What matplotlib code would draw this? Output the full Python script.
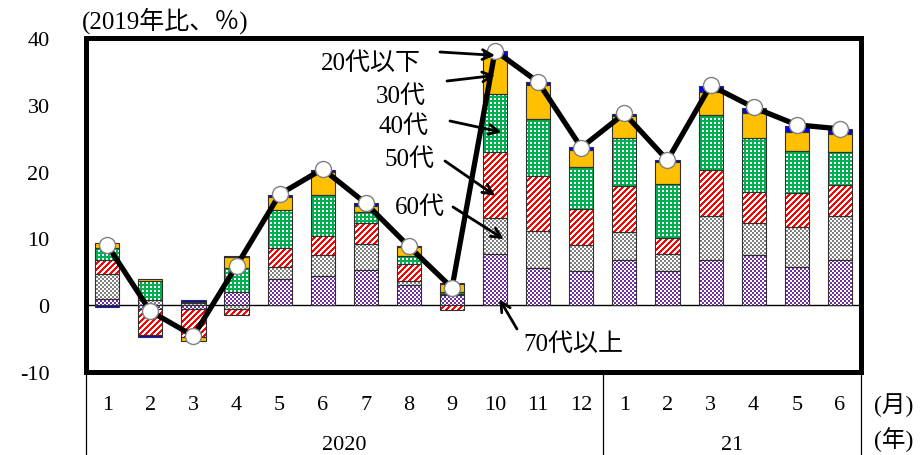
import numpy as np
import matplotlib
matplotlib.use("Agg")
import matplotlib.pyplot as plt
from matplotlib.path import Path
from matplotlib.colors import to_rgba

plt.rcParams['font.family'] = ['Liberation Serif', 'Noto Sans CJK JP', 'DejaVu Sans']
plt.rcParams['axes.unicode_minus'] = False

months = ['1', '2', '3', '4', '5', '6', '7', '8', '9', '10', '11', '12',
          '1', '2', '3', '4', '5', '6']
years = ['2020', '21']
year_counts = [12, 6]

series_names = ['70代以上', '60代', '50代', '40代', '30代', '20代以下']
age70 = [1.0, -0.6, -0.5, 2.0, 3.9, 4.3, 5.2, 3.0, 1.55, 7.65, 5.5, 5.15, 6.7, 5.05, 6.75, 7.5, 5.65, 6.7]
age60 = [3.6, 0.75, 0.4, -0.5, 1.75, 3.2, 3.9, 0.55, 0.15, 5.4, 5.55, 3.9, 4.3, 2.6, 6.55, 4.75, 6.1, 6.6]
age50 = [2.1, -3.9, -4.3, -0.9, 2.9, 2.9, 3.2, 2.55, -0.7, 9.85, 8.35, 5.35, 6.8, 2.4, 6.95, 4.65, 5.0, 4.7]
age40 = [1.9, 2.9, 0.15, 3.6, 5.7, 6.1, 1.6, 1.2, 0.3, 8.65, 8.4, 6.35, 7.2, 8.1, 8.15, 8.1, 6.35, 4.9]
age30 = [0.7, 0.2, -0.6, 1.6, 1.9, 3.5, 0.9, 1.35, 1.1, 5.75, 5.1, 2.55, 3.3, 3.25, 3.5, 3.75, 2.9, 2.75]
age20 = [-0.3, -0.3, 0.2, 0.15, 0.4, 0.3, 0.45, 0.15, 0.2, 0.7, 0.5, 0.35, 0.35, 0.35, 0.9, 0.75, 0.9, 0.75]
total = [9.0, -0.9, -4.6, 5.9, 16.6, 20.4, 15.25, 8.8, 2.6, 38.1, 33.4, 23.6, 28.7, 21.7, 32.9, 29.6, 27.0, 26.4]

W, H = 922, 456
fig = plt.figure(figsize=(W / 100, H / 100), dpi=100)
L, R, T, B = 85.7, 861.4, 39, 373
ax = fig.add_axes([L / W, 1 - B / H, (R - L) / W, (B - T) / H])
XMIN, XMAX, YMIN, YMAX = -0.5, len(months) - 0.5, -10, 40

x = np.arange(len(months))
bw = 0.56

# pixel-level fill patterns
ph, pw = int(round(B - T)), int(round(R - L))
ii, jj = np.mgrid[0:ph, 0:pw]


def make_pattern(kind, c1, c2):
    if kind == 'checker':
        m = ((ii // 2 + jj // 2) % 2) == 0
    elif kind == 'stripe':
        m = ((ii + jj) // 3) % 2 == 0
    elif kind == 'dots':
        m = ~(((ii % 4) < 2) & ((jj % 4) < 2))
    else:
        m = np.ones_like(ii, dtype=bool)
    img = np.empty((ph, pw, 4))
    img[m] = to_rgba(c1)
    img[~m] = to_rgba(c2)
    return img


styles = [
    ('checker', '#7030A0', 'white'),
    ('checker', '#808080', 'white'),
    ('stripe', '#FF0000', 'white'),
    ('dots', '#00B050', 'white'),
    ('solid', '#FFC000', '#FFC000'),
    ('solid', '#0000FF', '#0000FF'),
]

data = [age70, age60, age50, age40, age30, age20]
pos_b = np.zeros(len(x))
neg_b = np.zeros(len(x))
for vals, (kind, c1, c2) in zip(data, styles):
    v = np.array(vals)
    bottom = np.where(v >= 0, pos_b, neg_b)
    if kind == 'solid':
        ax.bar(x, v, bw, bottom=bottom, color=c1, linewidth=0, zorder=2)
    else:
        verts, codes = [], []
        for xi, vi, bi in zip(x, v, bottom):
            if vi == 0:
                continue
            x0, x1 = xi - bw / 2, xi + bw / 2
            y0, y1 = bi, bi + vi
            verts += [(x0, y0), (x1, y0), (x1, y1), (x0, y1), (x0, y0)]
            codes += [Path.MOVETO, Path.LINETO, Path.LINETO, Path.LINETO, Path.CLOSEPOLY]
        clip = Path(verts, codes)
        im = ax.imshow(make_pattern(kind, c1, c2), extent=(XMIN, XMAX, YMIN, YMAX),
                       interpolation='nearest', aspect='auto', origin='upper', zorder=2)
        im.set_clip_path(clip, ax.transData)
    ax.bar(x, v, bw, bottom=bottom, fill=False, edgecolor='#303030',
           linewidth=0.8, zorder=3)
    pos_b = pos_b + np.where(v >= 0, v, 0)
    neg_b = neg_b + np.where(v < 0, v, 0)

ax.axhline(0, color='black', lw=1.0, zorder=1)
ax.plot(x, total, color='black', lw=3.8, marker='o', ms=11.5, mfc='white',
        mec='#808080', mew=1.0, zorder=5)

ax.set_xlim(XMIN, XMAX)
ax.set_ylim(YMIN, YMAX)
ax.set_yticks([-10, 0, 10, 20, 30, 40])
ax.set_xticks([])
ax.tick_params(axis='y', length=0, pad=26, labelsize=16)
for s in ax.spines.values():
    s.set_linewidth(3.6)
    s.set_color('black')
    s.set_zorder(7)


def fx(px):
    return px / W


def fy(py):
    return 1 - py / H


# y unit label
fig.text(fx(82), fy(21), '(2019年比、％)', fontsize=18, ha='left', va='center')

# category table
step = (R - L) / len(x)
for i, m in enumerate(months):
    fig.text(fx(L + (i + 0.5) * step), fy(405), m, fontsize=16, ha='center', va='center')
start = 0
for yl, n in zip(years, year_counts):
    cx = L + (start + n / 2) * step
    fig.text(fx(cx), fy(446), yl, fontsize=16, ha='center', va='center')
    start += n
bounds = [0, 12, 18]
for b in bounds:
    xx = fx(L + b * step)
    fig.add_artist(plt.Line2D([xx, xx], [fy(375), fy(456)], color='black', lw=0.9))
fig.text(fx(894), fy(405), '(月)', fontsize=17, ha='center', va='center')
fig.text(fx(894), fy(440), '(年)', fontsize=17, ha='center', va='center')

# annotations
ann = [
    ('20代以下', (371, 64), (440, 53), (9.0, 37.4)),
    ('30代', (401, 97), (447, 82), (9.0, 34.4)),
    ('40代', (403, 127), (450, 122), (9.15, 25.9)),
    ('50代', (409, 160), (445, 162), (9.0, 16.4)),
    ('60代', (420, 208), (453, 208), (9.2, 9.9)),
    ('70代以上', (573, 345), (517, 330), (9.1, 0.9)),
]
for label, tpos, spos, target in ann:
    fig.text(fx(tpos[0]), fy(tpos[1]), label, fontsize=18, ha='center', va='center')
    ax.annotate('', xy=target, xycoords='data',
                xytext=(fx(spos[0]), fy(spos[1])), textcoords='figure fraction',
                arrowprops=dict(arrowstyle='->,head_length=0.7,head_width=0.35',
                                color='black', lw=2.0, shrinkA=0, shrinkB=0),
                zorder=6, annotation_clip=False)

fig.savefig('out.png', dpi=100)
